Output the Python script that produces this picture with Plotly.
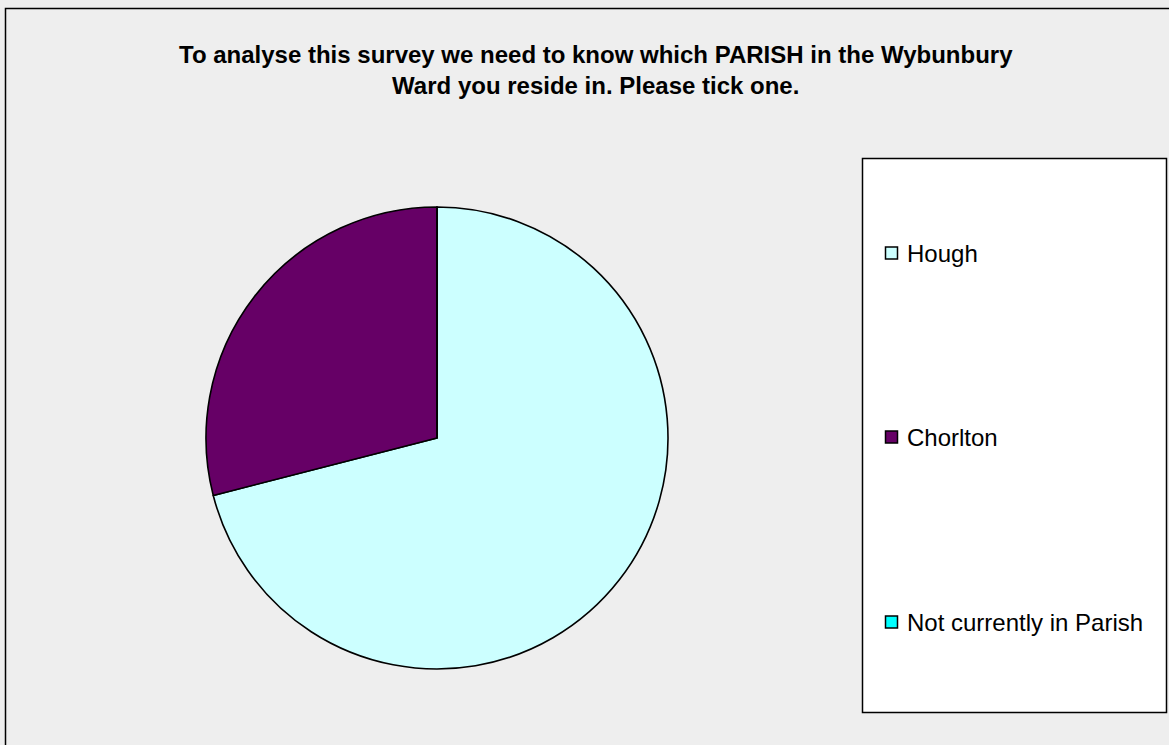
import plotly.graph_objects as go

# Survey responses by parish (percent of respondents)
parishes = ["Hough", "Chorlton", "Not currently in Parish"]
shares = [71, 29, 0]
colors = ["#CCFFFF", "#660066", "#00FFFF"]

title_text = ("To analyse this survey we need to know which PARISH in the Wybunbury"
              "<br>Ward you reside in. Please tick one.")

W, H = 1169, 745


def px(x):
    return x / W


def py(y):
    return 1 - y / H


fig = go.Figure()

fig.add_trace(go.Pie(
    labels=parishes,
    values=shares,
    sort=False,
    direction="clockwise",
    rotation=0,
    marker=dict(colors=colors, line=dict(color="#000000", width=1.6)),
    textinfo="none",
    hoverinfo="label+percent",
    showlegend=False,
    domain=dict(x=[px(206), px(668)], y=[py(669), py(207)]),
))

shapes = [
    # outer chart frame
    dict(type="rect", xref="paper", yref="paper",
         x0=px(5.5), x1=px(1175), y0=py(752), y1=py(8.5),
         line=dict(color="#000000", width=1.5), fillcolor="rgba(0,0,0,0)", layer="below"),
    # legend box
    dict(type="rect", xref="paper", yref="paper",
         x0=px(862.5), x1=px(1166.5), y0=py(712.5), y1=py(158.5),
         line=dict(color="#000000", width=1.5), fillcolor="#FFFFFF", layer="below"),
]

annotations = [
    dict(text="<b>" + title_text.replace("<br>", "</b><br><b>") + "</b>",
         xref="paper", yref="paper", x=px(596), y=py(39),
         xanchor="center", yanchor="top", showarrow=False, align="center",
         font=dict(family="Liberation Sans, Arial, sans-serif", size=24, color="#000000")),
]

legend_y = [253, 437, 622]
for name, col, yc in zip(parishes, colors, legend_y):
    shapes.append(dict(type="rect", xref="paper", yref="paper",
                       x0=px(885.5), x1=px(897.5), y0=py(yc + 6), y1=py(yc - 6),
                       line=dict(color="#000000", width=1.5), fillcolor=col))
    annotations.append(dict(text=name, xref="paper", yref="paper",
                            x=px(905), y=py(yc), xanchor="left", yanchor="middle",
                            showarrow=False,
                            font=dict(family="Liberation Sans, Arial, sans-serif",
                                      size=24, color="#000000")))

fig.update_layout(
    width=W, height=H,
    margin=dict(l=0, r=0, t=0, b=0),
    paper_bgcolor="#EEEEEE",
    plot_bgcolor="#EEEEEE",
    shapes=shapes,
    annotations=annotations,
    showlegend=False,
)

fig.write_html("out.html", config={"displayModeBar": False})
